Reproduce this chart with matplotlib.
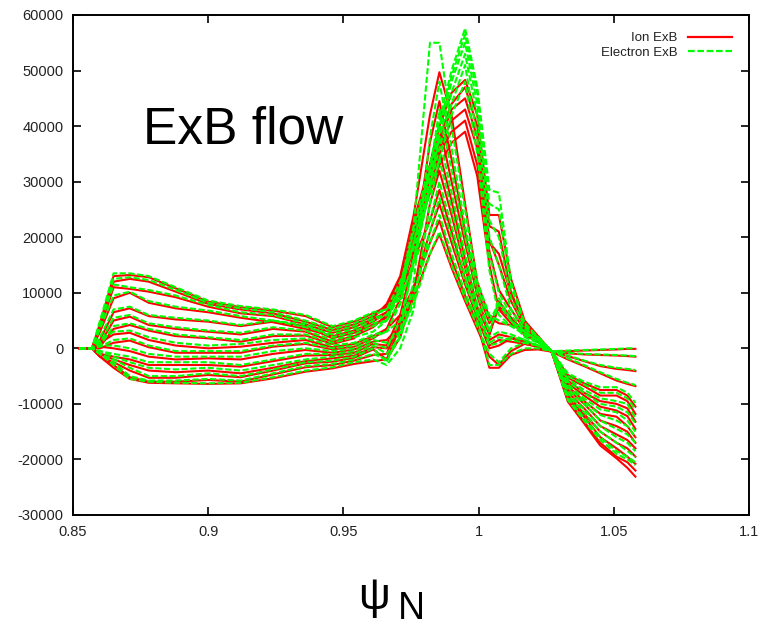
"""ExB flow profiles (ion vs electron) across the pedestal, gnuplot-style."""

import matplotlib

matplotlib.use("Agg")
import matplotlib.pyplot as plt
import numpy as np
from matplotlib.lines import Line2D

# normalised flux nodes shared by every profile
PSI = [0.8525, 0.857, 0.860, 0.865, 0.871, 0.878, 0.888, 0.900, 0.912, 0.924, 0.936, 0.946,
       0.954, 0.961, 0.966, 0.971, 0.976, 0.982, 0.9855, 0.990, 0.995, 0.9995, 1.004,
       1.0075, 1.012, 1.017, 1.022, 1.027, 1.033, 1.039, 1.045, 1.051, 1.055, 1.058]

# ion ExB profiles, values in thousands
ION_01 = [0, 0, 0.3, 0, -0.5, -1.5, -2, -1.8, -2, -1, -0.3, -0.8, -0.2, 1.2,
          1.5, 4, 9, 17, 20.5, 14.5, 8.5, 3.5, -1.5, -3, -0.5, 0.8, 0.3, -0.6,
          -0.5, -0.4, -0.3, -0.2, -0.1, -0.1]
ION_02 = [0, 0, 1, 2.5, 2.8, 1.5, 0.5, 0, 0.3, 1, 1.5, 0.2, 0.8, 2.2,
          3.5, 6, 11, 19, 23, 16, 9.5, 4.5, -3.5, -3.5, -1.2, -0.3, -0.2, -0.6,
          -0.9, -1.1, -1.2, -1.3, -1.4, -1.5]
ION_03 = [0, 0, -1, -2, -3, -4, -4.3, -4, -4.5, -3.5, -2.3, -1.8, -1.3, 0.2,
          0, 3.5, 11, 21, 26, 19, 11.5, 5.5, 0, 0.5, 1.8, 1.2, 0.3, -0.6,
          -1.4, -2.3, -3.2, -3.7, -3.9, -4.1]
ION_04 = [0, 0, 3, 9, 10, 8.2, 7.2, 6.5, 5.5, 4.7, 3.5, 2.2, 3.2, 4.8,
          6.5, 10, 16, 23, 28.5, 21, 12.5, 5.5, 1.5, 2.5, 2, 1.2, 0.3, -0.6,
          -2, -3.2, -4.5, -5.8, -6.4, -6.8]
ION_05 = [0, 0, -1.5, -3.5, -5.5, -6.2, -6.3, -6.4, -6.3, -5.4, -4.2, -3.6, -2.8, -2.3,
          -2, 2, 10, 26, 32, 24, 14.5, 6.5, 0.5, 1.5, 1.2, 0.8, 0.3, -0.6,
          -4.8, -6.3, -7.5, -7.5, -8.5, -10.5]
ION_06 = [0, 0, 0.8, 5, 5.7, 4.2, 3.5, 3, 2.5, 3.5, 3, 1.2, 2.2, 3.8,
          6, 10, 18, 29, 35.5, 26.5, 16, 7.5, 2.5, 7.5, 5.5, 2.3, 1.2, -0.6,
          -5.3, -6.8, -8.5, -8.5, -9.5, -11.8]
ION_07 = [0, 0, 4, 12, 12.5, 12, 10.2, 8, 7, 6.3, 4.8, 3.3, 4.3, 5.8,
          7.5, 11, 21, 33, 40, 30, 19, 9.5, 2.5, 8.5, 5.5, 2.8, 1.2, -0.6,
          -5.8, -8, -9.5, -10, -10.8, -13.2]
ION_08 = [0, 0, -1.5, -3, -5.2, -6, -6, -5.7, -6, -4.7, -3.4, -3, -2.2, -1.2,
          -1, 5, 17, 37, 44.5, 34, 21, 10.5, 4.5, 7.5, 5.2, 3.2, 1.6, -0.6,
          -6.3, -8.5, -10.5, -11.2, -12.2, -14.5]
ION_09 = [0, 0, 0.3, 3.5, 4.2, 3.2, 2.2, 1.8, 1.2, 2.2, 2.3, 0.8, 1.8, 5.5,
          8, 13, 24, 42, 49.7, 42, 26, 12, 5.5, 4.5, 4.2, 3.2, 1.6, -0.6,
          -6.8, -9.5, -11.8, -12.3, -14, -16]
ION_10 = [0, 0, 4.5, 13, 13.2, 12.8, 10.8, 8.4, 7.4, 6.8, 5.8, 3.8, 4.8, 6.3,
          7.5, 12.5, 19, 28, 33, 37, 39, 31, 15, 7, 4.5, 2.8, 1.6, -0.6,
          -7.4, -10, -13, -14, -15, -17]
ION_11 = [0, 0, -1, -1.5, -2, -3, -3, -3, -3.3, -2.3, -1.3, -1.2, -0.8, 0.8,
          0.5, 6, 16, 29, 35, 39, 41, 33, 17.5, 10.5, 7, 3.3, 1.6, -0.6,
          -7.9, -10.8, -14, -15.5, -16.5, -18]
ION_12 = [0, 0, 1.5, 6.5, 7.2, 5.8, 5.2, 4.8, 4, 4.8, 4, 1.8, 2.8, 4.3,
          5.5, 11, 20, 30, 36, 41, 43, 36, 19.5, 15, 8.5, 3.8, 2, -0.6,
          -8.4, -11.8, -15, -17, -18, -19.5]
ION_13 = [0, 0, -1.5, -2.5, -4, -5.3, -5.3, -4.8, -5.2, -4, -2.7, -2.4, -1.7, -0.2,
          -2, 4, 17, 31, 37, 43, 45, 38, 19, 17, 9.8, 4.2, 2, -0.6,
          -8.9, -12.3, -16, -18, -19.5, -20.8]
ION_14 = [0, 0, 3.5, 11, 10.7, 10.2, 9.2, 7.5, 6.3, 5.8, 4.3, 2.8, 3.8, 5.3,
          6.5, 12, 22, 32, 38, 44, 47, 40, 22, 21, 10, 4.5, 2, -0.6,
          -9.3, -13.2, -17, -19.5, -20.5, -22]
ION_15 = [0, 0, 0, 1, 1.4, 0.2, -0.8, -0.8, -0.8, 0.3, 0.8, -0.2, 0.3, 1.8,
          3.5, 9, 23, 33, 40, 46, 48.3, 42, 24, 24, 12.5, 5, 2.2, -0.6,
          -9.6, -13.5, -17.5, -19.8, -21.5, -23.1]

# electron ExB profiles, values in thousands
ELE_01 = [0, 0, 0.5, 0.5, 0, -1, -1.5, -1.5, -1.5, -0.5, 0, -0.5, 0, 1.5,
          1, 3, 8, 17, 21, 15, 9, 4, -1, -2.5, 0, 1, 0.5, -0.5,
          -0.4, -0.3, -0.2, -0.1, 0, 0]
ELE_02 = [0, 0, 1.5, 3, 3.2, 2, 1, 0.5, 0.8, 1.5, 1.8, 0.5, 1, 2.5,
          3, 5, 10, 19, 24, 17, 10, 5, -3, -3, -1, 0, 0, -0.5,
          -0.8, -1, -1.1, -1.2, -1.3, -1.4]
ELE_03 = [0, 0, -0.5, -1.5, -2.5, -3.5, -3.8, -3.5, -4, -3, -2, -1.5, -1, 0.5,
          -1, 2, 9, 21, 27, 20, 12, 6, 0.5, 1, 2, 1.5, 0.5, -0.5,
          -1.3, -2.2, -3, -3.5, -3.7, -3.9]
ELE_04 = [0, 0, 3.5, 9.5, 10.2, 8.5, 7.5, 6.8, 5.8, 5, 3.8, 2.5, 3.5, 5,
          6, 9, 15, 23, 30, 22, 13, 6, 2, 3, 2.5, 1.5, 0.5, -0.5,
          -1.8, -3, -4.3, -5.5, -6.2, -6.6]
ELE_05 = [0, 0, -1, -3, -5.5, -6, -6.2, -6.3, -6.2, -5.2, -4, -3.4, -2.5, -2,
          -3, 0, 7, 26, 34, 25, 15, 7, 1, 2, 1.5, 1, 0.5, -0.5,
          -4.5, -6, -7, -7, -8, -9.8]
ELE_06 = [0, 0, 1, 5.5, 6, 4.5, 3.8, 3.2, 2.8, 3.8, 3.2, 1.5, 2.5, 4,
          5, 8, 16, 29, 38, 28, 17, 8, 3, 8, 5, 2, 1, -0.5,
          -5, -6.5, -8, -8, -9, -11]
ELE_07 = [0, 0, 4.5, 12.5, 12.8, 12.3, 10.5, 8.2, 7.2, 6.5, 5, 3.5, 4.5, 6,
          7, 10, 19, 32, 43, 32, 20, 10, 3, 9, 5, 2.5, 1, -0.5,
          -5.5, -7.5, -9, -9.5, -10, -12.5]
ELE_08 = [0, 0, -1, -2.5, -5, -5.8, -5.8, -5.5, -5.8, -4.5, -3.2, -2.8, -2, -1,
          -2, 2, 12, 38, 48, 36, 22, 11, 5, 8, 5, 3, 1.5, -0.5,
          -6, -8, -10, -10.5, -11.5, -13.5]
ELE_09 = [0, 0, 0.5, 4, 4.5, 3.5, 2.5, 2, 1.5, 2.5, 2.5, 1, 2, 3,
          5, 11, 22, 55, 55, 40, 25, 12, 6, 5, 4, 3, 1.5, -0.5,
          -6.5, -9, -11, -11.5, -13, -15]
ELE_10 = [0, 0, 5, 13.5, 13.5, 13, 11, 8.6, 7.6, 7, 6, 4, 5, 6.5,
          7, 12, 18, 28, 34, 42, 48, 35, 14, 6, 4, 2.5, 1.5, -0.5,
          -7, -9.5, -12, -13, -14, -16]
ELE_11 = [0, 0, -0.5, -1, -1.5, -2.5, -2.5, -2.5, -3, -2, -1, -1, -0.5, 1,
          0, 5, 15, 29, 36, 44, 51, 38, 17, 10, 6, 3, 1.5, -0.5,
          -7.5, -10, -13, -14.5, -15.5, -17]
ELE_12 = [0, 0, 2, 7, 7.5, 6, 5.5, 5, 4.2, 5, 4.2, 2, 3, 4.5,
          5, 10, 19, 30, 38, 46, 53, 42, 20, 15, 7, 3.5, 2, -0.5,
          -8, -11, -14, -16, -17, -18.5]
ELE_13 = [0, 0, -1, -2, -3.5, -5, -5, -4.5, -5, -3.8, -2.5, -2.2, -1.5, 0,
          -2.5, 3, 16, 31, 39, 48, 55, 44, 23, 20, 9, 4, 2, -0.5,
          -8.5, -11.5, -15, -17, -18.5, -19.5]
ELE_14 = [0, 0, 4, 11.5, 11, 10.5, 9.5, 7.8, 6.5, 6, 4.5, 3, 4, 5.5,
          6, 11, 21, 32, 40, 49, 56.5, 46, 26, 25, 11, 4.5, 2, -0.5,
          -9, -12.5, -16, -18.5, -19.5, -20.5]
ELE_15 = [0, 0, 0.3, 1.5, 1.8, 0.5, -0.5, -0.5, -0.5, 0.5, 1, 0, 0.5, 2,
          3, 8, 22, 33, 41, 50, 57.6, 47, 28.5, 28, 12, 4.6, 2, -0.5,
          -9.3, -13, -16.5, -19, -20, -21]

ION = [ION_01, ION_02, ION_03, ION_04, ION_05, ION_06, ION_07, ION_08,
       ION_09, ION_10, ION_11, ION_12, ION_13, ION_14, ION_15]
ELECTRON = [ELE_01, ELE_02, ELE_03, ELE_04, ELE_05, ELE_06, ELE_07, ELE_08,
            ELE_09, ELE_10, ELE_11, ELE_12, ELE_13, ELE_14, ELE_15]

X_TICKS = [0.85, 0.9, 0.95, 1.0, 1.05, 1.1]
X_TICK_LABELS = ["0.85", "0.9", "0.95", "1", "1.05", "1.1"]
Y_TICKS = [-30000, -20000, -10000, 0, 10000, 20000, 30000, 40000, 50000, 60000]
Y_TICK_LABELS = ["-30000", "-20000", "-10000", "0", "10000", "20000",
                 "30000", "40000", "50000", "60000"]

ION_COLOR = "#ff0000"
ELE_COLOR = "#00ff00"
ELE_DASH = (0, (3.0, 1.2))

plt.rcParams["font.family"] = ["Liberation Sans", "DejaVu Sans"]

fig = plt.figure(figsize=(7.6, 6.28), dpi=100)
ax = fig.add_axes([73 / 760, 1 - 515 / 628, 676 / 760, 500 / 628])

psi = np.array(PSI)
for curve in ION:
    ax.plot(psi, np.array(curve) * 1000, color=ION_COLOR, lw=1.5)
for curve in ELECTRON:
    ax.plot(psi, np.array(curve) * 1000, color=ELE_COLOR, lw=1.5, linestyle=ELE_DASH)

ax.set_xlim(0.85, 1.1)
ax.set_ylim(-30000, 60000)
ax.set_xticks(X_TICKS)
ax.set_xticklabels(X_TICK_LABELS)
ax.set_yticks(Y_TICKS)
ax.set_yticklabels(Y_TICK_LABELS)
ax.tick_params(direction="in", length=6, width=1.2, top=True, right=True,
               labelsize=10.5, labelcolor="#222222", pad=7)
for spine in ax.spines.values():
    spine.set_linewidth(1.4)

ax.text(0.1036, 0.742, "ExB flow", transform=ax.transAxes, fontsize=37,
        ha="left", va="baseline")

handles = [Line2D([], [], color=ION_COLOR, lw=1.6),
           Line2D([], [], color=ELE_COLOR, lw=1.6, linestyle=ELE_DASH)]
leg = ax.legend(handles, ["Ion ExB", "Electron ExB"], loc="upper right",
                frameon=False, markerfirst=False, fontsize=9.5, handlelength=3.3,
                handletextpad=0.8, borderaxespad=0.9, labelspacing=0.15)
for t in leg.get_texts():
    t.set_color("#222222")

fig.text(358 / 760, 1 - 609 / 628, "\u03c8", fontsize=32, ha="left", va="baseline")
fig.text(398 / 760, 1 - 619 / 628, "N", fontsize=27, ha="left", va="baseline")

fig.savefig("out.png", dpi=100)
